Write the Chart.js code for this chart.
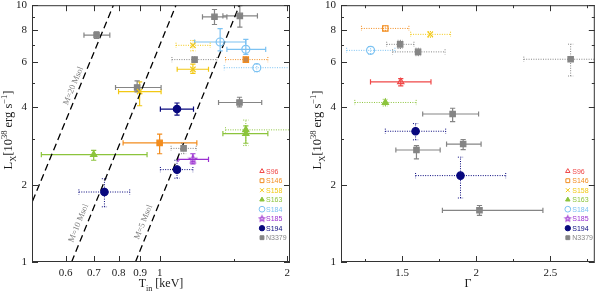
<!DOCTYPE html>
<html>
<head>
<title>L_X versus T_in and photon index</title>
<script src="https://cdn.jsdelivr.net/npm/chart.js"></script>
<style>
  body { margin: 0; background: #fff; }
  #wrap { position: relative; width: 600px; height: 291px; }
  canvas { position: absolute; top: 0; }
</style>
</head>
<body>
<div id="wrap">
  <canvas id="tinChart" width="300" height="291" style="left:0"></canvas>
  <canvas id="gammaChart" width="300" height="291" style="left:300px"></canvas>
</div>
<script>
// legend order
const sources = ['S96', 'S146', 'S158', 'S163', 'S184', 'S185', 'S194', 'N3379'];
const sourceColors = ['#f04848', '#f28c1e', '#f2c814', '#8cc43c', '#7cc2f2', '#9a2fd0', '#08087e', '#858585'];

// points: [x, x_lo, x_hi, L_X, L_lo, L_hi]   (L_X in 1e38 erg/s)
// left panel, x = T_in [keV]
const tinN3379Solid = [
  [0.71, 0.663, 0.763, 7.65, 7.42, 7.88],
  [1.347, 1.262, 1.441, 9.01, 8.41, 9.62],
  [1.546, 1.41, 1.701, 9.09, 8.22, 9.95],
  [0.885, 0.787, 1.008, 4.78, 4.6, 5.07],
  [1.543, 1.377, 1.741, 4.18, 4.02, 4.38]
];
const tinN3379Dotted = [
  [1.209, 1.069, 1.365, 6.14, 5.98, 6.3],
  [1.139, 1.064, 1.22, 2.77, 2.64, 2.9]
];
const tinS146Solid = [[1.0, 0.82, 1.224, 2.91, 2.64, 3.15]];
const tinS146Dotted = [[1.597, 1.43, 1.8, 6.14, 5.98, 6.3]];
const tinS158Solid = [
  [1.198, 1.1, 1.304, 5.63, 5.43, 5.9],
  [0.897, 0.8, 1.008, 4.61, 4.06, 5.03]
];
const tinS158Dotted = [[1.198, 1.093, 1.316, 6.98, 6.64, 7.29]];
const tinS163Solid = [
  [1.597, 1.41, 1.8, 3.16, 2.9, 3.39],
  [0.699, 0.526, 0.934, 2.62, 2.49, 2.72]
];
const tinS163Dotted = [[1.597, 1.43, 2.1, 3.27, 2.84, 3.57]];
const tinS184Solid = [
  [1.389, 1.209, 1.596, 7.19, 6.64, 8.1],
  [1.597, 1.441, 1.779, 6.73, 6.43, 7.36]
];
const tinS184Dotted = [[1.695, 1.42, 2.1, 5.71, 5.5, 5.9]];
const tinS185Solid = [[1.198, 1.105, 1.304, 2.51, 2.41, 2.64]];
const tinS194Solid = [[1.099, 1.004, 1.202, 3.94, 3.73, 4.16]];
const tinS194Dotted = [
  [1.099, 1.004, 1.198, 2.29, 2.12, 2.49],
  [0.741, 0.645, 0.85, 1.873, 1.64, 2.11]
];

// dashed L ~ T^4 lines for M = 20, 10, 5 Msol: T at L = 1 and L = 10
const massLineL = [1, 10];
const massLine20T = [0.4375, 0.778];
const massLine10T = [0.62, 1.093];
const massLine5T = [0.877, 1.543];
const massLabels = ['M=20 Msol', 'M=10 Msol', 'M=5 Msol'];

// right panel, x = photon index Gamma
const gamN3379Solid = [
  [1.841, 1.639, 2.016, 3.77, 3.52, 3.97],
  [1.912, 1.8, 2.033, 2.88, 2.74, 3.0],
  [1.597, 1.458, 1.757, 2.73, 2.52, 2.84],
  [2.022, 1.772, 2.45, 1.59, 1.52, 1.66]
];
const gamN3379Dotted = [
  [1.487, 1.396, 1.58, 7.04, 6.78, 7.3],
  [1.608, 1.436, 1.79, 6.58, 6.36, 6.8],
  [2.637, 2.321, 2.82, 6.16, 5.3, 7.05]
];
const gamS96Solid = [[1.491, 1.287, 1.695, 5.03, 4.85, 5.18]];
const gamS146Dotted = [[1.387, 1.226, 1.546, 8.12, 7.95, 8.3]];
const gamS158Dotted = [[1.69, 1.558, 1.827, 7.7, 7.5, 7.9]];
const gamS163Dotted = [[1.387, 1.181, 1.595, 4.18, 4.05, 4.3]];
const gamS184Dotted = [[1.2875, 1.126, 1.452, 6.67, 6.45, 6.9]];
const gamS194Dotted = [
  [1.591, 1.387, 1.794, 3.23, 2.99, 3.46],
  [1.894, 1.591, 2.199, 2.17, 1.775, 2.56]
];

// axis ticks
const lxMajor = [1, 2, 4, 6, 8, 10];
const lxMinor = [3, 5, 7, 9];
const tinMajor = [0.6, 0.7, 0.8, 0.9, 1, 2];
const tinMinor = [1.5];
const gamMajor = [1.5, 2, 2.5];
const gamMinor = [1.25, 1.75, 2.25, 2.75];

const SERIF = '"Liberation Serif", "DejaVu Serif", serif';
const SANS = '"Liberation Sans", Arial, sans-serif';

function starImage(color, r) {
  const c = document.createElement('canvas');
  const s = Math.ceil(2 * r + 3);
  c.width = s; c.height = s;
  const g = c.getContext('2d');
  g.strokeStyle = color;
  g.lineWidth = 1.1;
  g.beginPath();
  for (let k = 0; k < 10; k++) {
    const rr = k % 2 ? r * 0.45 : r;
    const a = -Math.PI / 2 + k * Math.PI / 5;
    const px = s / 2 + rr * Math.cos(a), py = s / 2 + rr * Math.sin(a);
    k ? g.lineTo(px, py) : g.moveTo(px, py);
  }
  g.closePath();
  g.stroke();
  return c;
}

function marker(src, big) {
  const i = sources.indexOf(src);
  const col = sourceColors[i];
  const k = big ? 1 : 0.72;
  switch (src) {
    case 'S96': return {style: 'triangle', r: 3.6 * k, fill: 'rgba(0,0,0,0)', col};
    case 'S146': return {style: 'rect', r: 3.8 * k, fill: 'rgba(0,0,0,0)', col};
    case 'S158': return {style: 'crossRot', r: 3.8 * k, fill: col, col};
    case 'S163': return {style: 'triangle', r: 3.6 * k, fill: col, col};
    case 'S184': return {style: 'circle', r: 4 * k, fill: 'rgba(0,0,0,0)', col};
    case 'S185': return {style: starImage(col, 4 * k), r: 4 * k, fill: col, col};
    case 'S194': return {style: 'circle', r: 3.7 * k, fill: col, col};
    default: return {style: 'rect', r: 3.8 * k, fill: col, col};
  }
}

function group(src, dotted, pts, fill) {
  const m = marker(src, true);
  return {
    label: src,
    data: pts.map(p => ({x: p[0], xlo: p[1], xhi: p[2], y: p[3], ylo: p[4], yhi: p[5]})),
    bars: true,
    dotted: dotted,
    borderColor: m.col,
    backgroundColor: fill || m.fill,
    pointStyle: m.style,
    pointRadius: m.r,
    pointHoverRadius: m.r,
    pointBorderWidth: 1.2
  };
}

function massLine(ts) {
  return {
    label: 'mass',
    data: ts.map((t, i) => ({x: t, y: massLineL[i]})),
    showLine: true,
    borderColor: '#000',
    borderWidth: 1.3,
    borderDash: [7, 4],
    pointRadius: 0,
    pointHoverRadius: 0,
    massLine: true
  };
}

// error bars under the markers
const errorBars = {
  id: 'errorBars',
  beforeDatasetsDraw(chart) {
    const {ctx, chartArea: a, scales: {x, y}} = chart;
    const cap = 2.6;
    ctx.save();
    ctx.beginPath();
    ctx.rect(a.left, a.top, a.right - a.left, a.bottom - a.top);
    ctx.clip();
    chart.data.datasets.forEach(ds => {
      if (!ds.bars) return;
      ctx.strokeStyle = ds.borderColor;
      ctx.lineWidth = ds.dotted ? 1 : 1.2;
      ctx.setLineDash(ds.dotted ? [1, 1.4] : []);
      ds.data.forEach(p => {
        const px = x.getPixelForValue(p.x), py = y.getPixelForValue(p.y);
        const x0 = x.getPixelForValue(p.xlo), x1 = x.getPixelForValue(p.xhi);
        const y0 = y.getPixelForValue(p.ylo), y1 = y.getPixelForValue(p.yhi);
        ctx.beginPath();
        ctx.moveTo(x0, py); ctx.lineTo(x1, py);
        ctx.moveTo(px, y0); ctx.lineTo(px, y1);
        ctx.moveTo(x0, py - cap); ctx.lineTo(x0, py + cap);
        ctx.moveTo(x1, py - cap); ctx.lineTo(x1, py + cap);
        ctx.moveTo(px - cap, y0); ctx.lineTo(px + cap, y0);
        ctx.moveTo(px - cap, y1); ctx.lineTo(px + cap, y1);
        ctx.stroke();
      });
    });
    ctx.restore();
  }
};

function drawRich(ctx, segs, cx, cy, size, angle) {
  ctx.save();
  ctx.translate(cx, cy);
  ctx.rotate(angle || 0);
  const parts = segs.map(s => {
    const fs = (s.sub || s.sup) ? size * 0.68 : size;
    ctx.font = fs + 'px ' + SERIF;
    return {s, fs, w: ctx.measureText(s.t).width};
  });
  let xx = -parts.reduce((t, p) => t + p.w, 0) / 2;
  ctx.fillStyle = '#1a1a1a';
  ctx.textBaseline = 'alphabetic';
  parts.forEach(p => {
    ctx.font = p.fs + 'px ' + SERIF;
    const dy = p.s.sub ? size * 0.28 : p.s.sup ? -size * 0.42 : 0;
    ctx.fillText(p.s.t, xx, size * 0.35 + dy);
    xx += p.w;
  });
  ctx.restore();
}

// frame, inward ticks, axis titles, mass labels, source legend
const decor = {
  id: 'decor',
  afterDraw(chart, args, o) {
    const {ctx, chartArea: a, scales: {x, y}} = chart;
    ctx.save();
    ctx.strokeStyle = '#333';
    ctx.lineWidth = 1;
    ctx.setLineDash([]);
    ctx.strokeRect(a.left + 0.5, a.top + 0.5, a.right - a.left - 1, a.bottom - a.top - 1);
    ctx.beginPath();
    const tx = (vals, len) => vals.forEach(v => {
      const p = Math.round(x.getPixelForValue(v)) + 0.5;
      ctx.moveTo(p, a.bottom); ctx.lineTo(p, a.bottom - len);
      ctx.moveTo(p, a.top); ctx.lineTo(p, a.top + len);
    });
    const ty = (vals, len) => vals.forEach(v => {
      const p = Math.round(y.getPixelForValue(v)) + 0.5;
      ctx.moveTo(a.left, p); ctx.lineTo(a.left + len, p);
      ctx.moveTo(a.right, p); ctx.lineTo(a.right - len, p);
    });
    tx(o.xMajor, 6); tx(o.xMinor, 3);
    ty(o.yMajor, 6); ty(o.yMinor, 3);
    ctx.stroke();

    drawRich(ctx, o.xTitle, (a.left + a.right) / 2 + o.xTitleShift, 283, 12, 0);
    drawRich(ctx, [{t: 'L'}, {t: 'X', sub: true}, {t: '[10'}, {t: '38', sup: true}, {t: ' erg s'}, {t: '\u22121', sup: true}, {t: ']'}],
      a.left - 24, 130, 12.5, -Math.PI / 2);

    // mass labels along the dashed lines
    if (o.massText) {
      const lines = chart.data.datasets.filter(d => d.massLine);
      ctx.fillStyle = '#7a7a7a';
      ctx.font = '8.5px ' + SERIF;
      ctx.textAlign = 'center';
      ctx.textBaseline = 'middle';
      lines.forEach((ln, i) => {
        const p0 = ln.data[0], p1 = ln.data[1];
        const ang = Math.atan2(y.getPixelForValue(p1.y) - y.getPixelForValue(p0.y),
                               x.getPixelForValue(p1.x) - x.getPixelForValue(p0.x));
        const lp = o.massPos[i];
        ctx.save();
        ctx.translate(x.getPixelForValue(lp[0]), y.getPixelForValue(lp[1]));
        ctx.rotate(ang);
        ctx.fillText(o.massText[i], 0, 0);
        ctx.restore();
      });
    }

    // legend
    const lx = a.right + o.legendDx, ly0 = a.top + 166, step = 9.5;
    ctx.font = '7px ' + SANS;
    ctx.textAlign = 'left';
    ctx.textBaseline = 'middle';
    sources.forEach((s, i) => {
      const m = marker(s, false);
      const yy = ly0 + i * step;
      ctx.fillStyle = m.fill;
      ctx.strokeStyle = m.col;
      ctx.lineWidth = 1;
      Chart.helpers.drawPoint(ctx, {pointStyle: m.style, radius: m.r, rotation: 0, borderWidth: 1}, lx, yy);
      ctx.fillStyle = m.col;
      ctx.fillText(s, lx + o.legendGap, yy + 0.5);
    });
    ctx.restore();
  }
};

Chart.defaults.font.family = SERIF;
Chart.defaults.font.size = 11;
Chart.defaults.color = '#1a1a1a';

function makeChart(id, datasets, xOpts, yWidth, padRight, plugOpts) {
  return new Chart(document.getElementById(id), {
    type: 'scatter',
    data: {datasets},
    plugins: [errorBars, decor],
    options: {
      responsive: false,
      animation: false,
      devicePixelRatio: 1,
      layout: {padding: {top: 4, right: padRight, left: 0, bottom: 0}},
      plugins: {legend: {display: false}, tooltip: {enabled: false}, decor: plugOpts},
      scales: {
        x: Object.assign({
          grid: {display: false, drawTicks: false},
          border: {display: false},
          afterFit: s => { s.height = 29; s.paddingLeft = 0; s.paddingRight = 0; },
          ticks: {autoSkip: false, maxRotation: 0, padding: 5, callback: v => String(v)}
        }, xOpts),
        y: {
          type: 'logarithmic',
          min: 1, max: 10,
          grid: {display: false, drawTicks: false},
          border: {display: false},
          afterFit: s => { s.width = yWidth; s.paddingTop = 0; s.paddingBottom = 0; },
          afterBuildTicks: s => { s.ticks = lxMajor.map(v => ({value: v})); },
          ticks: {autoSkip: false, padding: 5, callback: v => String(v)}
        }
      }
    }
  });
}

makeChart('tinChart', [
  group('S194', false, tinS194Solid),
  group('S194', true, tinS194Dotted),
  group('S185', false, tinS185Solid),
  group('S184', false, tinS184Solid),
  group('S184', true, tinS184Dotted),
  group('S163', false, tinS163Solid),
  group('S163', true, tinS163Dotted),
  group('S158', false, tinS158Solid),
  group('S158', true, tinS158Dotted),
  group('S146', false, tinS146Solid, sourceColors[1]),
  group('S146', true, tinS146Dotted, '#c8874a'),
  group('N3379', false, tinN3379Solid),
  group('N3379', true, tinN3379Dotted),
  massLine(massLine20T),
  massLine(massLine10T),
  massLine(massLine5T)
], {
  type: 'logarithmic', min: 0.5, max: 2.03,
  afterBuildTicks: s => { s.ticks = tinMajor.map(v => ({value: v})); }
}, 32, 10, {
  xMajor: tinMajor, xMinor: tinMinor, yMajor: lxMajor, yMinor: lxMinor,
  xTitle: [{t: 'T'}, {t: 'in', sub: true}, {t: ' [keV]'}], xTitleShift: 0,
  massText: massLabels, massPos: [[0.626, 4.85], [0.644, 1.416], [0.916, 1.43]],
  legendDx: -28, legendGap: 4
});

makeChart('gammaChart', [
  group('S194', true, gamS194Dotted),
  group('S184', true, gamS184Dotted),
  group('S163', true, gamS163Dotted),
  group('S158', true, gamS158Dotted),
  group('S146', true, gamS146Dotted),
  group('S96', false, gamS96Solid),
  group('N3379', false, gamN3379Solid),
  group('N3379', true, gamN3379Dotted)
], {
  type: 'linear', min: 1.088, max: 2.8,
  afterBuildTicks: s => { s.ticks = gamMajor.map(v => ({value: v})); }
}, 41, 2, {
  xMajor: gamMajor, xMinor: gamMinor, yMajor: lxMajor, yMinor: lxMinor,
  xTitle: [{t: '\u0393'}], xTitleShift: 0,
  legendDx: -27, legendGap: 4.5
});
</script>
</body>
</html>
